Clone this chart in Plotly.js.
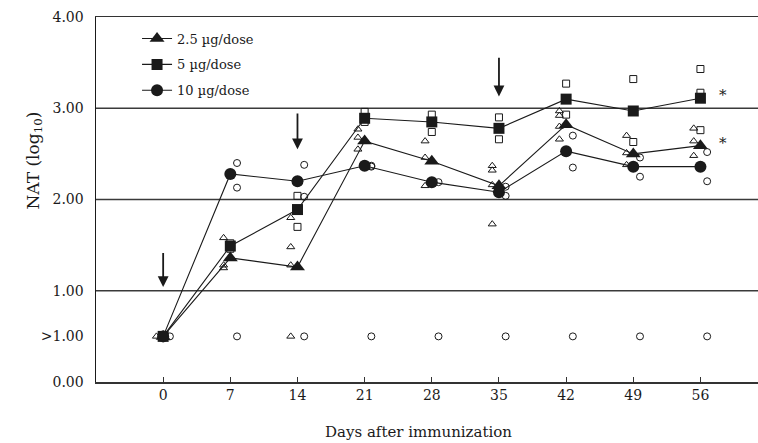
<!DOCTYPE html>
<html>
<head>
<meta charset="utf-8">
<script src="https://cdn.plot.ly/plotly-3.0.1.min.js"></script>
<style>html,body{margin:0;padding:0;background:#fff;}#chart{width:758px;height:443px;}</style>
</head>
<body>
<div id="chart"></div>
<script>
// ---- data ----
const days = [0, 7, 14, 21, 28, 35, 42, 49, 56];
const dayLabels = ["0", "7", "14", "21", "28", "35", "42", "49", "56"];
const seriesNames = ["2.5 \u00b5g/dose", "5 \u00b5g/dose", "10 \u00b5g/dose"];

// group means (log10 NAT); 0.5 marks ">1.00" (below detection)
const mean25 = [0.5, 1.36, 1.26, 2.64, 2.42, 2.15, 2.82, 2.50, 2.59];
const mean5  = [0.5, 1.49, 1.89, 2.89, 2.85, 2.78, 3.10, 2.97, 3.11];
const mean10 = [0.5, 2.28, 2.20, 2.37, 2.19, 2.08, 2.53, 2.36, 2.36];

// individual animals, per day
const ind25 = [[0.5], [1.58, 1.28, 1.25], [1.80, 1.48, 1.28, 0.5], [2.77, 2.68, 2.55],
               [2.64, 2.46, 2.15], [2.37, 2.32, 2.16, 1.73], [2.97, 2.92, 2.80, 2.66],
               [2.70, 2.51, 2.38], [2.78, 2.64, 2.48]];
const ind5  = [[0.5], [1.52, 1.46], [2.04, 1.70], [2.96, 2.85],
               [2.93, 2.74], [2.90, 2.66], [3.27, 2.93],
               [3.32, 2.63], [3.43, 3.17, 2.76]];
const ind10 = [[0.5], [2.40, 2.13, 0.5], [2.38, 2.03, 0.5], [2.37, 2.36, 0.5],
               [2.19, 0.5], [2.14, 2.04, 0.5], [2.70, 2.35, 0.5],
               [2.46, 2.25, 0.5], [2.52, 2.20, 0.5]];

const yTickVals = [0, 0.5, 1, 2, 3, 4];
const yTickText = ["0.00", ">1.00", "1.00", "2.00", "3.00", "4.00"];
const gridValues = [1, 2, 3];

// immunization arrows
const arrowDays = [0, 14, 35];
const arrowTail = [1.43, 2.96, 3.57];
const arrowTip  = [1.04, 2.55, 3.13];

// significance marks
const starY = [3.15, 2.62];
const starDay = 58.4;

// ---- styling ----
const FONT = "DejaVu Serif, Liberation Serif, serif";
const INK = "#1a1a1a";
const offsets = [-0.7, 0, 0.7];
const M = {l: 96, r: 0, t: 17, b: 61};
const W = 758, H = 443;
const plotW = W - M.l - M.r, plotH = H - M.t - M.b;

function indTrace(ind, off, symbol) {
  const x = [], y = [];
  ind.forEach((vals, i) => vals.forEach(v => { x.push(days[i] + off); y.push(v); }));
  return {x, y, type: "scatter", mode: "markers", showlegend: false, hoverinfo: "skip",
          marker: {symbol, size: 7, color: INK, line: {width: 1, color: INK}}};
}
function meanTrace(m, name, symbol, size, grp) {
  return {x: days, y: m, type: "scatter", mode: "lines+markers", name, legendgroup: grp,
          line: {color: INK, width: 1.1},
          marker: {symbol, size, color: INK}};
}

const data = [
  indTrace(ind25, offsets[0], "triangle-up-open"),
  indTrace(ind5, offsets[1], "square-open"),
  indTrace(ind10, offsets[2], "circle-open"),
  meanTrace(mean25, seriesNames[0], "triangle-up", 13, "a"),
  meanTrace(mean5, seriesNames[1], "square", 11, "b"),
  meanTrace(mean10, seriesNames[2], "circle", 12, "c")
];

const shapes = gridValues.map(g => ({type: "line", xref: "paper", x0: 0, x1: 1, yref: "y", y0: g, y1: g,
  line: {color: "#3a3a3a", width: 1.4}, layer: "below"}));

const annotations = [];
arrowDays.forEach((d, i) => annotations.push({x: d, y: arrowTip[i], ax: d, ay: arrowTail[i],
  xref: "x", yref: "y", axref: "x", ayref: "y", text: "", showarrow: true,
  arrowhead: 2, arrowsize: 1.2, arrowwidth: 1.8, arrowcolor: INK}));
starY.forEach(s => annotations.push({x: starDay, y: s, xref: "x", yref: "y", text: "*",
  showarrow: false, font: {family: FONT, size: 15, color: INK}}));
// axis titles placed by pixel position, converted to paper coords
annotations.push({x: 26.6, xref: "x", y: (H - M.b - 432) / plotH, yref: "paper", yanchor: "middle",
  text: "Days after immunization", showarrow: false, font: {family: FONT, size: 15, color: INK}});
annotations.push({x: (20 - M.l) / plotW, xref: "paper", y: (H - M.b - 161) / plotH, yref: "paper",
  text: "NAT (log<sub>10</sub>)", textangle: -90, showarrow: false, font: {family: FONT, size: 17, color: INK}});

const layout = {
  width: W, height: H,
  margin: M,
  paper_bgcolor: "#fff", plot_bgcolor: "#fff",
  font: {family: FONT, size: 14, color: INK},
  showlegend: true,
  legend: {x: 0.062, y: 0.982, xanchor: "left", yanchor: "top", bgcolor: "rgba(0,0,0,0)",
           font: {family: FONT, size: 13, color: INK}, traceorder: "grouped", tracegroupgap: 6},
  xaxis: {range: [-7, 62], tickmode: "array", tickvals: days, ticktext: dayLabels,
          ticks: "inside", ticklen: 5, tickcolor: "#333", tickwidth: 1,
          showline: true, linecolor: "#333", linewidth: 1.5, mirror: true,
          showgrid: false, zeroline: false, tickfont: {family: FONT, size: 14, color: INK}},
  yaxis: {range: [0, 4], tickmode: "array", tickvals: yTickVals, ticktext: yTickText,
          ticks: "", showline: true, linecolor: INK, linewidth: 1.5,
          showgrid: false, zeroline: false, ticklabelstandoff: 8, tickfont: {family: FONT, size: 14, color: INK}},
  shapes, annotations
};

Plotly.newPlot("chart", data, layout, {staticPlot: true, displayModeBar: false});
</script>
</body>
</html>
